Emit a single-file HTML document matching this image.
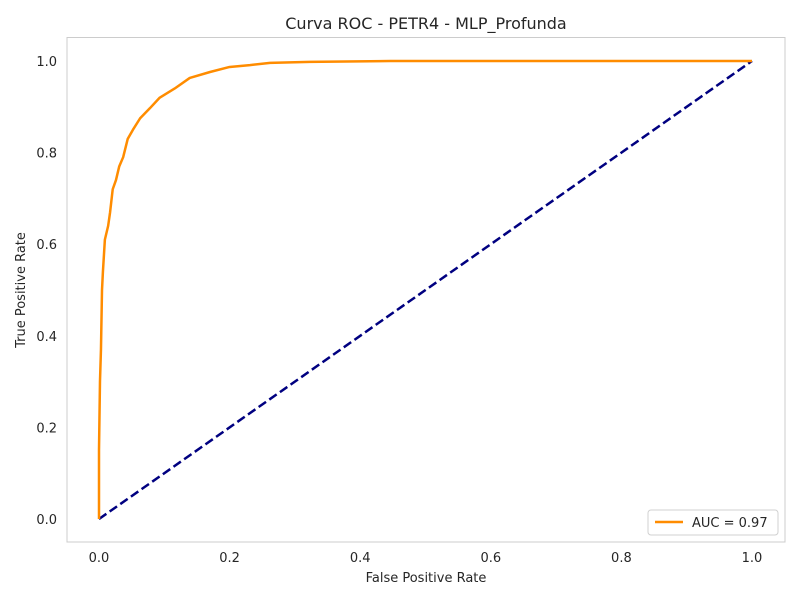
<!DOCTYPE html>
<html><head><meta charset="utf-8"><style>
body{margin:0;background:#fff;font-family:"DejaVu Sans","Liberation Sans",sans-serif}
</style></head><body>
<svg id="chart" width="800" height="600" viewBox="0 0 800 600" font-family="DejaVu Sans, Liberation Sans, sans-serif">
<rect x="0" y="0" width="800" height="600" fill="#fff"/>
<text x="426" y="29" text-anchor="middle" font-size="16" fill="#262626">Curva ROC - PETR4 - MLP_Profunda</text>
<rect x="67" y="37.5" width="718" height="504.5" fill="none" stroke="#cccccc" stroke-width="1"/>
<g id="xticks"></g><g id="yticks"></g>
<text x="426" y="582" text-anchor="middle" font-size="13" fill="#262626">False Positive Rate</text>
<text transform="translate(25,290) rotate(-90)" text-anchor="middle" font-size="13" fill="#262626">True Positive Rate</text>
<g id="series"></g>
<g>
<rect x="648" y="510" width="130" height="25" rx="3" fill="#fff" stroke="#d0d0d0"/>
<line x1="655" y1="522" x2="683" y2="522" stroke="darkorange" stroke-width="2.5"/>
<text x="692" y="527" font-size="13" fill="#262626">AUC = 0.97</text>
</g>
</svg>
<script>
const xTicks=[0,0.2,0.4,0.6,0.8,1.0];
const yTicks=[0,0.2,0.4,0.6,0.8,1.0];
const fpr=[0,0,0.0015,0.003,0.0046,0.006,0.009,0.014,0.017,0.021,0.026,0.031,0.037,0.044,0.052,0.063,0.078,0.093,0.116,0.139,0.17,0.2,0.231,0.262,0.323,0.446,1.0];
const tpr=[0,0.15,0.30,0.37,0.50,0.54,0.61,0.64,0.67,0.72,0.74,0.77,0.79,0.83,0.85,0.875,0.897,0.92,0.94,0.963,0.976,0.987,0.991,0.996,0.998,1.0,1.0];
const diagX=[0,1],diagY=[0,1];
const sx=v=>99+v*653, sy=v=>519-v*458;
const NS='http://www.w3.org/2000/svg';
const xt=document.getElementById('xticks'), yt=document.getElementById('yticks'), se=document.getElementById('series');
xTicks.forEach(v=>{const t=document.createElementNS(NS,'text');t.setAttribute('x',sx(v));t.setAttribute('y',562);t.setAttribute('text-anchor','middle');t.setAttribute('font-size','13');t.setAttribute('fill','#262626');t.textContent=v.toFixed(1);


xt.appendChild(t);});
yTicks.forEach(v=>{const t=document.createElementNS(NS,'text');t.setAttribute('x',57);t.setAttribute('y',sy(v)+5);t.setAttribute('text-anchor','end');t.setAttribute('font-size','13');t.setAttribute('fill','#262626');t.textContent=v.toFixed(1);


yt.appendChild(t);});
const d=document.createElementNS(NS,'polyline');
d.setAttribute('points',diagX.map((x,i)=>sx(x)+','+sy(diagY[i])).join(' '));
d.setAttribute('fill','none');d.setAttribute('stroke','navy');d.setAttribute('stroke-width','2.5');d.setAttribute('stroke-dasharray','9,4');


se.appendChild(d);
const r=document.createElementNS(NS,'polyline');
r.setAttribute('points',fpr.map((x,i)=>sx(x)+','+sy(tpr[i])).join(' '));
r.setAttribute('fill','none');r.setAttribute('stroke','darkorange');r.setAttribute('stroke-width','2.5');r.setAttribute('stroke-linejoin','round');


se.appendChild(r);
</script>
</body></html>
